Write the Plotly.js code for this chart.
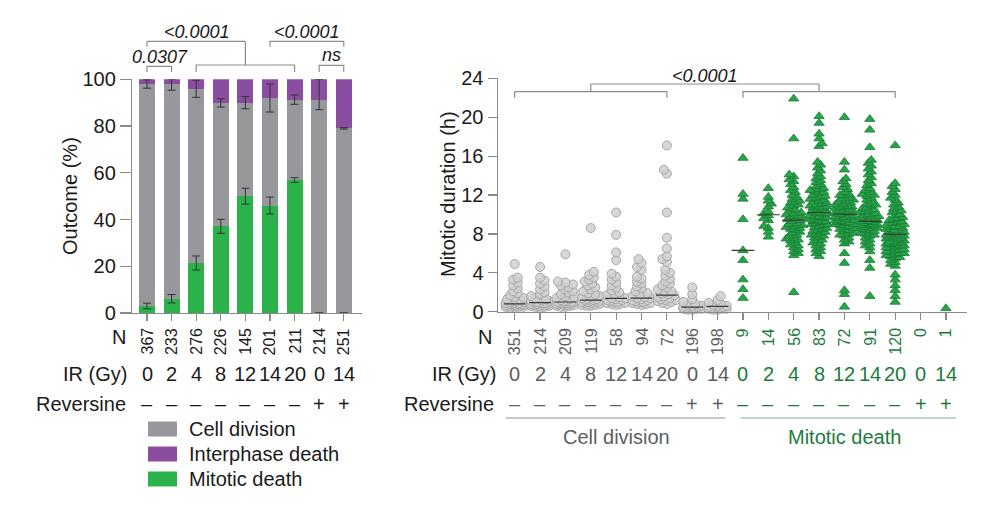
<!DOCTYPE html>
<html><head><meta charset="utf-8">
<script src="https://cdn.plot.ly/plotly-3.0.1.min.js"></script>
<style>html,body{margin:0;padding:0;background:#fff}#c{width:1000px;height:508px}</style>
</head><body><div id="c"></div>
<script>
// ---------- LEFT PANEL DATA ----------
const categoriesLeft = ['0 Gy','2 Gy','4 Gy','8 Gy','12 Gy','14 Gy','20 Gy','0 Gy +Rev','14 Gy +Rev'];
const nLeft = [367,233,276,226,145,201,211,214,251];
const irLabels = ['0','2','4','8','12','14','20','0','14'];
const reversine = ['–','–','–','–','–','–','–','+','+'];
const mitoticDeathPct = [3.0,6.1,21.4,37.1,50.0,46.0,56.9,0,0];
const cellDivisionPct = [95.0,92.0,74.6,52.8,40.0,46.0,34.4,91.0,79.0];
const interphaseDeathPct = [2.0,1.9,4.0,10.1,10.0,8.0,8.7,9.0,21.0];
const mitoticErr = [1.2,1.8,3.0,3.0,3.4,3.6,1.0,0,0];
const cellDivErrPlus = [1.8,2.0,3.6,1.8,2.6,6.0,2.0,9.0,0.3];
const cellDivErrMinus = [1.8,2.8,3.7,1.8,2.6,6.0,2.0,4.0,0.3];

// ---------- RIGHT PANEL DATA ----------
const nCD = [351,214,209,119,58,94,72,196,198];
const nMD = [9,14,56,83,72,91,120,0,1];
const cd0 = [4.9,3.5,3.3,3.0,2.7,2.4,2.1,1.9,1.7,1.5,1.4,1.3,1.2,1.1,1.1,1.0,1.0,0.9,0.9,0.9,0.8,0.8,0.8,0.8,0.7,0.7,0.7,0.7,0.6,0.6,0.6,0.5,0.5,0.5,0.4,0.4];
const cd2 = [4.6,3.5,3.2,2.9,2.6,2.3,2.0,1.8,1.6,1.4,1.3,1.2,1.1,1.1,1.0,1.0,0.9,0.9,0.9,0.8,0.8,0.8,0.7,0.7,0.7,0.6,0.6,0.6,0.5,0.5,0.4];
const cd4 = [5.9,3.1,3.0,2.8,2.7,2.5,2.3,2.1,2.0,1.8,1.6,1.5,1.4,1.3,1.2,1.1,1.1,1.0,1.0,1.0,0.9,0.9,0.9,0.8,0.8,0.8,0.7,0.7,0.7,0.6,0.6,0.5,0.5];
const cd8 = [8.6,4.1,3.8,3.5,3.3,3.1,2.9,2.7,2.5,2.3,2.1,1.9,1.8,1.6,1.5,1.4,1.3,1.3,1.2,1.2,1.1,1.1,1.0,1.0,1.0,0.9,0.9,0.8,0.8,0.7,0.7,0.6,0.6];
const cd12 = [10.2,7.9,6.1,5.3,3.9,3.6,3.3,3.0,2.7,2.5,2.2,2.0,1.8,1.7,1.5,1.4,1.4,1.3,1.2,1.2,1.1,1.0,1.0,0.9,0.9,0.8,0.8,0.7];
const cd14 = [5.4,5.0,4.6,4.3,3.6,3.4,3.1,2.9,2.6,2.4,2.1,1.9,1.8,1.6,1.5,1.4,1.4,1.3,1.2,1.2,1.1,1.0,1.0,0.9,0.9,0.8,0.8,0.7];
const cd20 = [17.1,14.6,14.2,10.2,7.6,6.5,5.7,5.4,5.1,4.3,4.0,3.7,3.4,3.1,2.9,2.7,2.5,2.3,2.1,2.0,1.9,1.8,1.7,1.6,1.5,1.4,1.3,1.2,1.2,1.1,1.0,0.9,0.8];
const cd0Rev = [2.5,1.8,1.3,1.0,0.8,0.7,0.6,0.6,0.5,0.5,0.4,0.4,0.4,0.3,0.3,0.3,0.2,0.2];
const cd14Rev = [1.6,1.2,0.9,0.8,0.7,0.6,0.6,0.5,0.5,0.4,0.4,0.4,0.3,0.3,0.3,0.2,0.2];
const md0 = [15.8,12.1,11.6,9.5,6.3,5.3,3.3,2.3,1.4];
const md2 = [12.7,11.8,11.4,11.1,10.8,10.3,10.1,9.9,9.6,9.4,8.8,8.6,8.2,7.7];
const md4 = [21.9,17.8,14.1,13.9,13.6,13.4,13.1,12.8,12.5,12.3,12.0,11.8,11.6,11.4,11.2,11.0,10.9,10.7,10.5,10.4,10.2,10.0,9.9,9.8,9.6,9.5,9.4,9.3,9.1,9.0,8.9,8.8,8.6,8.5,8.4,8.2,8.1,7.9,7.8,7.6,7.4,7.3,7.1,6.9,6.8,6.6,6.4,6.2,6.0,5.8,9.7,10.1,11.3,8.7,7.5,2.0];
const md8 = [20.1,19.4,18.3,17.8,17.3,17.0,15.4,15.1,14.8,14.5,14.2,13.9,13.7,13.5,13.3,13.1,12.9,12.7,12.5,12.3,12.2,12.0,11.9,11.7,11.6,11.4,11.3,11.2,11.0,10.9,10.8,10.7,10.5,10.4,10.3,10.2,10.1,10.0,9.9,9.8,9.7,9.6,9.5,9.4,9.3,9.2,9.1,9.0,8.9,8.8,8.7,8.6,8.5,8.4,8.3,8.2,8.0,7.9,7.7,7.6,7.4,7.3,7.1,7.0,6.8,6.6,6.4,6.2,6.0,5.7,10.6,10.1,9.7,11.1,11.8,12.4,8.1,9.3,10.8,11.5,7.8,12.6,9.0];
const md12 = [20.0,15.4,14.6,13.7,13.4,13.1,12.8,12.6,12.3,12.1,11.9,11.7,11.5,11.3,11.1,11.0,10.8,10.7,10.5,10.4,10.3,10.2,10.1,10.0,9.9,9.8,9.7,9.6,9.5,9.4,9.3,9.2,9.1,9.0,8.9,8.8,8.7,8.6,8.4,8.3,8.1,8.0,7.8,7.6,7.4,7.2,7.0,6.0,5.0,2.2,1.8,0.5,10.6,9.9,11.2,10.2,9.4,12.0,8.5,10.9,9.0,11.6,7.9,10.3,9.7,10.8,9.2,11.4];
const md14 = [19.8,18.7,16.9,15.6,15.3,15.0,14.7,14.4,14.1,13.8,13.5,13.2,13.0,12.7,12.5,12.3,12.1,11.9,11.7,11.5,11.3,11.1,10.9,10.7,10.5,10.3,10.2,10.0,9.9,9.8,9.7,9.6,9.5,9.4,9.3,9.2,9.1,9.0,8.9,8.8,8.7,8.6,8.5,8.4,8.3,8.1,8.0,7.8,7.6,7.4,7.2,7.0,6.8,6.6,6.2,5.3,4.5,1.6,10.1,9.6,9.3,8.9,10.6,11.0,9.8,9.0,8.6,12.0,10.4,9.5,7.9,8.2];
const md20 = [17.1,13.2,12.9,12.6,12.3,12.0,11.7,11.5,11.2,11.0,10.8,10.6,10.4,10.2,10.0,9.9,9.7,9.5,9.4,9.2,9.1,9.0,8.9,8.8,8.7,8.6,8.5,8.4,8.3,8.2,8.1,8.0,7.9,7.8,7.7,7.6,7.5,7.4,7.3,7.2,7.1,7.0,6.9,6.8,6.7,6.6,6.5,6.4,6.3,6.2,6.1,6.0,5.9,5.8,5.7,5.5,5.3,5.1,4.9,4.7,3.8,3.3,2.7,2.2,1.6,1.0,8.0,7.6,7.2,6.8,6.4,8.4,8.8,9.3,6.0,5.6,7.0,7.8,9.6,10.3];
const md0Rev = [];
const md14Rev = [0.35];
const cdGroups = [cd0,cd2,cd4,cd8,cd12,cd14,cd20,cd0Rev,cd14Rev];
const mdGroups = [md0,md2,md4,md8,md12,md14,md20,md0Rev,md14Rev];
const medianCD = [0.8,0.93,1.0,1.2,1.37,1.4,1.7,0.48,0.55];
const medianMD = [6.3,9.97,9.42,10.2,10.04,9.29,7.95,null,null];

// ---------- STYLE ----------
const FONT = 'Liberation Sans, Arial, Helvetica, sans-serif';
const GRAY = '#97989b', PURPLE = '#8a4d9f', GREEN = '#2cb24b';
const AXC = '#8a8a8a';
const CDTXT = '#5e5e5e', MDTXT = '#1d7a3d';
const X = px => px/1000, Y = py => 1 - py/508;

const xl = categoriesLeft.map((_,i)=>i);

const traces = [];
traces.push({type:'bar', x:xl, y:mitoticDeathPct, marker:{color:GREEN}, width:0.65, xaxis:'x', yaxis:'y', hoverinfo:'skip'});
traces.push({type:'bar', x:xl, y:cellDivisionPct, marker:{color:GRAY}, width:0.65, xaxis:'x', yaxis:'y', hoverinfo:'skip'});
traces.push({type:'bar', x:xl, y:interphaseDeathPct, marker:{color:PURPLE}, width:0.65, xaxis:'x', yaxis:'y', hoverinfo:'skip'});
const grayTop = mitoticDeathPct.map((v,i)=>v+cellDivisionPct[i]);
traces.push({type:'scatter', mode:'markers', x:xl, y:mitoticDeathPct, marker:{size:1,color:'rgba(0,0,0,0)'},
  error_y:{type:'data', array:mitoticErr, visible:true, color:'#333', thickness:1, width:4}, xaxis:'x', yaxis:'y', hoverinfo:'skip'});
traces.push({type:'scatter', mode:'markers', x:xl, y:grayTop, marker:{size:1,color:'rgba(0,0,0,0)'},
  error_y:{type:'data', symmetric:false, array:cellDivErrPlus, arrayminus:cellDivErrMinus, visible:true, color:'#333', thickness:1, width:4}, xaxis:'x', yaxis:'y', hoverinfo:'skip'});

// ---------- swarm layout ----------
const PXY = 9.73, PXX = 25.37;
function swarm(vals, center, minD, maxOff, step){
  const sorted = vals.slice().sort((a,b)=>a-b);
  const placed=[], xs=[], ys=[];
  sorted.forEach((v,idx)=>{
    const yp=v*PXY;
    let best=0, bestScore=-1, found=false;
    for(let k=0;k*step<=maxOff && !found;k++){
      const s = (idx%2===0)?1:-1;
      const cands = k===0?[0]:[s*k*step,-s*k*step];
      for(const off of cands){
        let md=Infinity;
        for(const p of placed){const d=Math.hypot(p[0]-off,p[1]-yp); if(d<md) md=d;}
        if(md>=minD){best=off;found=true;break;}
        if(md>bestScore){bestScore=md;best=off;}
      }
    }
    placed.push([best,yp]); xs.push(center+best/PXX); ys.push(v);
  });
  return {xs,ys};
}
const cdX=[], cdY=[], mdX=[], mdY=[];
cdGroups.forEach((g,i)=>{const s=swarm(g,i,4.2,9,1.5); cdX.push(...s.xs); cdY.push(...s.ys);});
mdGroups.forEach((g,i)=>{const s=swarm(g,i+9,3.6,10,1.5); mdX.push(...s.xs); mdY.push(...s.ys);});
traces.push({type:'scatter', mode:'markers', x:cdX, y:cdY, xaxis:'x2', yaxis:'y2', cliponaxis:false,
  marker:{symbol:'circle', size:9, color:'rgba(208,208,208,0.85)', line:{color:'#a6a6a6', width:1}}, hoverinfo:'skip'});
traces.push({type:'scatter', mode:'markers', x:mdX, y:mdY, xaxis:'x2', yaxis:'y2', cliponaxis:false,
  marker:{symbol:'triangle-up', size:9, color:'#27a548', line:{color:'#187a35', width:0.8}}, hoverinfo:'skip'});
const medX=[], medY=[];
medianCD.forEach((m,i)=>{ if(m!==null){medX.push(i-0.43,i+0.43,null); medY.push(m,m,null);} });
medianMD.forEach((m,i)=>{ if(m!==null){medX.push(i+9-0.45,i+9+0.45,null); medY.push(m,m,null);} });
traces.push({type:'scatter', mode:'lines', x:medX, y:medY, xaxis:'x2', yaxis:'y2', line:{color:'#3a3a3a', width:1.2}, hoverinfo:'skip', connectgaps:false});

// ---------- annotations ----------
const ann = [];
function A(o){ ann.push(Object.assign({showarrow:false, font:{family:FONT,size:20,color:'#1a1a1a'}}, o)); }
A({text:'Outcome (%)', xref:'paper', yref:'paper', x:X(70), y:Y(196), textangle:-90, xanchor:'center', yanchor:'middle'});
A({text:'Mitotic duration (h)', xref:'paper', yref:'paper', x:X(448), y:Y(194), textangle:-90, xanchor:'center', yanchor:'middle'});
A({text:'N', xref:'paper', yref:'paper', x:X(128), y:Y(337), xanchor:'right', yanchor:'middle'});
A({text:'IR (Gy)', xref:'paper', yref:'paper', x:X(129), y:Y(374), xanchor:'right', yanchor:'middle'});
A({text:'Reversine', xref:'paper', yref:'paper', x:X(128), y:Y(404), xanchor:'right', yanchor:'middle'});
xl.forEach(i=>{
  A({text:String(nLeft[i]), xref:'x', yref:'paper', x:i, y:Y(326), textangle:-90, xanchor:'center', yanchor:'top', font:{family:FONT,size:16,color:'#1a1a1a'}});
  A({text:irLabels[i], xref:'x', yref:'paper', x:i, y:Y(374), xanchor:'center', yanchor:'middle'});
  A({text:reversine[i], xref:'x', yref:'paper', x:i, y:Y(404), xanchor:'center', yanchor:'middle'});
});
A({text:'N', xref:'paper', yref:'paper', x:X(494), y:Y(337), xanchor:'right', yanchor:'middle'});
A({text:'IR (Gy)', xref:'paper', yref:'paper', x:X(498), y:Y(374), xanchor:'right', yanchor:'middle'});
A({text:'Reversine', xref:'paper', yref:'paper', x:X(496), y:Y(404), xanchor:'right', yanchor:'middle'});
nCD.forEach((n,i)=>{
  A({text:String(n), xref:'x2', yref:'paper', x:i, y:Y(326), textangle:-90, xanchor:'center', yanchor:'top', font:{family:FONT,size:16,color:CDTXT}});
  A({text:irLabels[i], xref:'x2', yref:'paper', x:i, y:Y(374), xanchor:'center', yanchor:'middle', font:{family:FONT,size:20,color:CDTXT}});
  A({text:reversine[i], xref:'x2', yref:'paper', x:i, y:Y(404), xanchor:'center', yanchor:'middle', font:{family:FONT,size:20,color:CDTXT}});
});
nMD.forEach((n,i)=>{
  A({text:String(n), xref:'x2', yref:'paper', x:i+9, y:Y(326), textangle:-90, xanchor:'center', yanchor:'top', font:{family:FONT,size:16,color:MDTXT}});
  A({text:irLabels[i], xref:'x2', yref:'paper', x:i+9, y:Y(374), xanchor:'center', yanchor:'middle', font:{family:FONT,size:20,color:MDTXT}});
  A({text:reversine[i], xref:'x2', yref:'paper', x:i+9, y:Y(404), xanchor:'center', yanchor:'middle', font:{family:FONT,size:20,color:MDTXT}});
});
A({text:'Cell division', xref:'x2', yref:'paper', x:4, y:Y(437), xanchor:'center', yanchor:'middle', font:{family:FONT,size:20,color:CDTXT}});
A({text:'Mitotic death', xref:'x2', yref:'paper', x:13, y:Y(437), xanchor:'center', yanchor:'middle', font:{family:FONT,size:20,color:MDTXT}});
const legendItems = [['Cell division',GRAY],['Interphase death',PURPLE],['Mitotic death',GREEN]];
const legendRows = [429,454,479];
legendItems.forEach((it,k)=>{
  A({text:it[0], xref:'paper', yref:'paper', x:X(187), y:Y(legendRows[k]), xanchor:'left', yanchor:'middle'});
});
const PF = {family:FONT, size:18, color:'#1a1a1a'};
A({text:'<i>&lt;0.0001</i>', xref:'x', yref:'paper', x:2.05, y:Y(31.5), xanchor:'center', yanchor:'middle', font:PF});
A({text:'<i>0.0307</i>', xref:'x', yref:'paper', x:0.53, y:Y(57), xanchor:'center', yanchor:'middle', font:PF});
A({text:'<i>&lt;0.0001</i>', xref:'x', yref:'paper', x:6.5, y:Y(31.5), xanchor:'center', yanchor:'middle', font:PF});
A({text:'<i>ns</i>', xref:'x', yref:'paper', x:7.5, y:Y(55), xanchor:'center', yanchor:'middle', font:PF});
A({text:'<i>&lt;0.0001</i>', xref:'x2', yref:'paper', x:7.5, y:Y(76.5), xanchor:'center', yanchor:'middle', font:PF});

// ---------- shapes ----------
const shapes = [];
const BL = {color:'#8c8c8c', width:1.2};
function bracket(xref, x0, x1, yTop, yBot){
  shapes.push({type:'path', xref:xref, yref:'paper', line:BL,
    path:`M ${x0},${Y(yBot)} L ${x0},${Y(yTop)} L ${x1},${Y(yTop)} L ${x1},${Y(yBot)}`});
}
function seg(xref, x0, y0, x1, y1){
  shapes.push({type:'line', xref:xref, yref:'paper', x0:x0, x1:x1, y0:Y(y0), y1:Y(y1), line:BL});
}
bracket('x',0,1,66.3,72);
bracket('x',2,6,65,72);
bracket('x',7,8,65.3,72);
seg('x',4,65,4,41.3);
seg('x',0,41.3,4,41.3); seg('x',0,41.3,0,46.7);
bracket('x',5,8,41.3,46.7);
bracket('x2',0,6,91.7,97.7);
bracket('x2',9,15,91.7,97.7);
seg('x2',3,91.7,3,84); seg('x2',12,91.7,12,84); seg('x2',3,84,12,84);
shapes.push({type:'line', xref:'x2', yref:'paper', x0:-0.35, x1:8.3, y0:Y(418), y1:Y(418), line:{color:'#b4b4b4', width:1.5}});
shapes.push({type:'line', xref:'x2', yref:'paper', x0:8.9, x1:17.4, y0:Y(418), y1:Y(418), line:{color:'#a9c7b7', width:1.5}});
legendItems.forEach((it,k)=>{
  shapes.push({type:'rect', xref:'paper', yref:'paper', x0:X(148), x1:X(177), y0:Y(legendRows[k]-7.5), y1:Y(legendRows[k]+7.5), fillcolor:it[1], line:{width:0}});
});

const axBase = {showgrid:false, zeroline:false, showline:true, linecolor:AXC, linewidth:1.2, ticks:'outside', tickcolor:AXC, tickwidth:1.2,
  tickfont:{family:FONT,size:20,color:'#1a1a1a'}, fixedrange:true};
const layout = {
  width:1000, height:508, margin:{l:0,r:0,t:0,b:0}, paper_bgcolor:'#fff', plot_bgcolor:'#fff',
  showlegend:false, barmode:'stack', font:{family:FONT},
  xaxis:Object.assign({}, axBase, {domain:[X(132), X(361.7)], range:[-0.61,8.73], tickvals:xl, showticklabels:false, ticklen:7, anchor:'y'}),
  yaxis:Object.assign({}, axBase, {domain:[Y(313), Y(79.3)], range:[0,100], tickvals:[0,20,40,60,80,100], ticklen:11, anchor:'x'}),
  xaxis2:Object.assign({}, axBase, {domain:[X(497.7), X(966.7)], range:[-0.67,17.82], tickvals:[...Array(18).keys()], showticklabels:false, ticklen:7, anchor:'y2'}),
  yaxis2:Object.assign({}, axBase, {domain:[Y(311.7), Y(78.3)], range:[0,24], tickvals:[0,4,8,12,16,20,24], ticklen:9, anchor:'x2'}),
  annotations:ann, shapes:shapes
};
Plotly.newPlot('c', traces, layout, {staticPlot:true, displayModeBar:false});
</script></body></html>
